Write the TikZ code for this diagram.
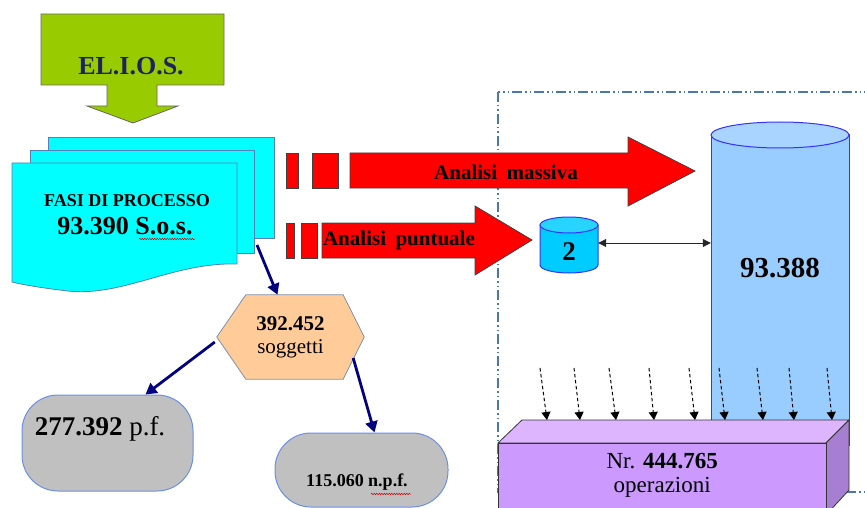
\documentclass[tikz,border=0pt]{standalone}
\usepackage{fontspec}
\setmainfont{Liberation Serif}
\usetikzlibrary{arrows.meta,decorations.pathmorphing,backgrounds}

\definecolor{elgreen}{HTML}{99CC00}
\definecolor{elnavy}{HTML}{1F2260}
\definecolor{doccyan}{HTML}{00FFFF}
\definecolor{docline}{HTML}{5A7FB5}
\definecolor{dbsmall}{HTML}{00CCFF}
\definecolor{dbbig}{HTML}{99CCFF}
\definecolor{dbline}{HTML}{3333FF}
\definecolor{hexfill}{HTML}{FFCC99}
\definecolor{hexline}{HTML}{7F8FA9}
\definecolor{greyfill}{HTML}{C0C0C0}
\definecolor{greyline}{HTML}{6B8FE8}
\definecolor{opsfront}{HTML}{CC99FF}
\definecolor{opstop}{HTML}{DDB5FF}
\definecolor{opsside}{HTML}{A77FD2}
\definecolor{framecol}{HTML}{4A78AE}
\definecolor{arrownavy}{HTML}{000080}

\tikzset{
  redbar/.style={fill=red, draw=black!75, line width=0.8pt},
  navyarrow/.style={draw=arrownavy, line width=2.8pt, -{Triangle[length=11pt,width=12pt]}},
  feed/.style={draw=black, line width=1pt, dash pattern=on 3.5pt off 2.5pt, -{Triangle[length=8pt,width=9pt]}},
  link/.style={draw=black!85, line width=1pt, {Triangle[length=8pt,width=8pt]}-{Triangle[length=8pt,width=8pt]}},
  pill/.style={draw=greyline, fill=greyfill, line width=1pt, rounded corners=36pt},
  page/.style={fill=doccyan, draw=docline, line width=0.8pt},
  squiggle/.style={draw=red!80!black, line width=0.5pt, decorate, decoration={snake, amplitude=0.7pt, segment length=2.5pt}},
  bigbold/.style={font=\fontsize{#1}{#1}\selectfont\rmfamily\bfseries},
  plaintext/.style={font=\fontsize{#1}{#1}\selectfont\rmfamily}
}

\begin{document}
\begin{tikzpicture}[x=1pt,y=-1pt]
  \useasboundingbox (0,0) rectangle (865,508);
  \clip (0,0) rectangle (865,508);

  % frame round the archive
  \draw[framecol, line width=1.2pt, dash pattern=on 10pt off 3pt on 1.5pt off 3pt on 1.5pt off 3pt]
    (498,92) rectangle (880,492);

  % EL.I.O.S. arrow
  \filldraw[fill=elgreen, draw=black!60, line width=0.8pt]
    (41,14) -- (224,14) -- (224,85) -- (157,85) -- (157,106) -- (178,106) -- (133,123)
    -- (87,106) -- (107,106) -- (107,85) -- (41,85) -- cycle;
  \node[bigbold=26, text=elnavy] (elios) at (131,66) {EL.I.O.S.};

  % pages
  \filldraw[page] (48,137) rectangle (274,238);
  \filldraw[page] (30,150) rectangle (254,253);
  \filldraw[page] (12,163) -- (237,163) -- (237,264)
    .. controls (170,262) and (120,300) .. (60,290) .. controls (35,287) and (20,284) .. (12,282) -- cycle;
  \node[bigbold=18] (fasi) at (127,201) {FASI DI PROCESSO};
  \node[bigbold=26] (sos) at (125,226) {93.390 S.o.s.};
  \draw[squiggle] (139,239) -- (195,239);

  % red arrows
  \filldraw[redbar] (286,153) rectangle (298,188);
  \filldraw[redbar] (312,153) rectangle (338,188);
  \filldraw[redbar] (350,153) -- (628,153) -- (628,137) -- (695,171) -- (628,206) -- (628,188) -- (350,188) -- cycle;
  \node[bigbold=21] (massiva) at (506,172) {Analisi\hspace{0.45em}massiva};
  \filldraw[redbar] (286,223) rectangle (294,258);
  \filldraw[redbar] (301,223) rectangle (317,258);
  \filldraw[redbar] (322,223) -- (475,223) -- (475,206) -- (532,240) -- (475,275) -- (475,258) -- (322,258) -- cycle;
  \node[bigbold=21] (puntuale) at (399,240) {Analisi\hspace{0.45em}puntuale};

  % cylinders
  \filldraw[fill=dbsmall, draw=dbline, line width=1pt]
    (540,225) -- (540,265) arc[start angle=180, end angle=0, x radius=29, y radius=8] -- (598,225) -- cycle;
  \filldraw[fill=dbsmall!85!white, draw=dbline, line width=1pt] (569,225) ellipse[x radius=29, y radius=8];
  \node[bigbold=27, minimum width=58pt, inner sep=0pt] (db2) at (569,252) {2};

  \filldraw[fill=dbbig, draw=dbline, line width=1pt] (711,135) -- (711,445) -- (849,445) -- (849,135) -- cycle;
  \filldraw[fill=dbbig!85!white, draw=dbline, line width=1pt] (780,135) ellipse[x radius=69, y radius=13];
  \node[bigbold=29, minimum width=138pt, inner sep=0pt] (db93) at (780,268) {93.388};

  \draw[link] ([yshift=9pt]db2.east) -- ([yshift=9pt]db2.east -| db93.west);

  % operations box
  \filldraw[fill=opstop, draw=black!80, line width=0.8pt] (498,443) -- (522,420) -- (849,420) -- (826,443) -- cycle;
  \filldraw[fill=opsside, draw=black!80, line width=0.8pt] (826,443) -- (849,420) -- (849,490) -- (826,515) -- cycle;
  \filldraw[fill=opsfront, draw=black!80, line width=0.8pt] (498,443) rectangle (826,520);
  \node[plaintext=23, align=center, anchor=north west, minimum width=328pt, minimum height=64pt, inner sep=0pt]
    (ops) at (498,443) {Nr. \textbf{444.765}\\[1pt]operazioni};

  \foreach \i/\xa/\xb in {1/540/547, 2/574/580, 3/609/616, 4/649/654, 5/689/695,
                          6/719/725, 7/757/763, 8/789/794, 9/827/832} {
    \coordinate (f\i) at (\xa,368);
    \coordinate (g\i) at (\xb,420);
    \draw[feed] (f\i) -- (g\i);
  }

  % soggetti
  \node[plaintext=21, align=center, minimum width=147pt, minimum height=84pt] (sogg) at (290.5,337)
    {\textbf{392.452}\\[2pt]soggetti};
  \begin{scope}[on background layer]
    \filldraw[fill=hexfill, draw=hexline, line width=0.8pt]
      (sogg.west) -- ([xshift=29pt]sogg.north west) -- ([xshift=-21pt]sogg.north east)
      -- (sogg.east) -- ([xshift=-21pt]sogg.south east) -- ([xshift=29pt]sogg.south west) -- cycle;
  \end{scope}

  \node[pill, minimum width=171pt, minimum height=96pt] (pf) at (107.5,443) {};
  \node[plaintext=27] (pflbl) at (100,429) {\textbf{277.392} p.f.};
  \node[pill, minimum width=173pt, minimum height=74pt] (npf) at (361.5,470) {};
  \node[bigbold=18] (npflbl) at (357,482) {115.060 n.p.f.};
  \draw[squiggle] (371,494) -- (411,494);

  \coordinate (docc) at (257,245);
  \draw[navyarrow] (docc) -- ([xshift=-13pt]sogg.north);
  \draw[navyarrow] ([xshift=-2pt,yshift=-5pt]sogg.west) -- ([xshift=38pt]pf.north);
  \draw[navyarrow] ([xshift=-11pt,yshift=-21pt]sogg.east) -- ([xshift=13pt]npf.north);
\end{tikzpicture}
\end{document}
